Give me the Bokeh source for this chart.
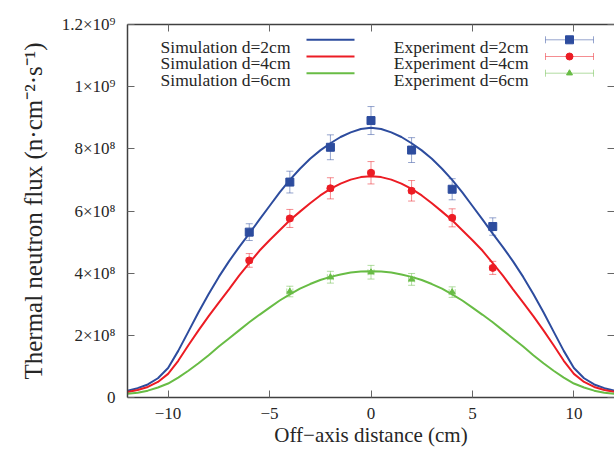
from bokeh.plotting import figure
from bokeh.models import (ColumnDataSource, LinearAxis, FixedTicker, Whisker, TeeHead,
                          CustomLabelingPolicy, Range1d)
from bokeh.core.properties import value
from bokeh.embed import file_html
from bokeh.resources import INLINE

FONT = "Liberation Serif"
TXT = "#262626"
AX = "#404040"

# ---- data (flux in units of 1e8 n/cm2/s) ----
sim_x = [-12.0, -11.5, -11.0, -10.5, -10.0, -9.5, -9.0, -8.5, -8.0, -7.5, -7.0, -6.5, -6.0,
         -5.5, -5.0, -4.5, -4.0, -3.5, -3.0, -2.5, -2.0, -1.5, -1.0, -0.5, 0.0,
         0.5, 1.0, 1.5, 2.0, 2.5, 3.0, 3.5, 4.0, 4.5, 5.0, 5.5, 6.0,
         6.5, 7.0, 7.5, 8.0, 8.5, 9.0, 9.5, 10.0, 10.5, 11.0, 11.5, 12.0]
sim_d2 = [0.22, 0.30, 0.42, 0.62, 0.95, 1.50, 2.12, 2.74, 3.33, 3.88, 4.38, 4.84, 5.27,
          5.72, 6.16, 6.60, 7.00, 7.36, 7.68, 7.95, 8.18, 8.38, 8.53, 8.64, 8.68,
          8.64, 8.53, 8.38, 8.18, 7.95, 7.68, 7.36, 7.00, 6.60, 6.16, 5.72, 5.27,
          4.84, 4.38, 3.88, 3.33, 2.74, 2.12, 1.50, 0.95, 0.62, 0.42, 0.30, 0.22]
sim_d4 = [0.18, 0.24, 0.34, 0.50, 0.76, 1.18, 1.68, 2.16, 2.62, 3.05, 3.48, 3.92, 4.32,
          4.72, 5.06, 5.38, 5.70, 5.98, 6.25, 6.50, 6.71, 6.88, 7.01, 7.09, 7.12,
          7.09, 7.01, 6.88, 6.71, 6.50, 6.25, 5.98, 5.70, 5.38, 5.06, 4.72, 4.32,
          3.92, 3.48, 3.05, 2.62, 2.16, 1.68, 1.18, 0.76, 0.50, 0.34, 0.24, 0.18]
sim_d6 = [0.12, 0.15, 0.22, 0.32, 0.45, 0.64, 0.86, 1.10, 1.36, 1.64, 1.90, 2.16, 2.42,
          2.66, 2.89, 3.12, 3.32, 3.50, 3.65, 3.78, 3.88, 3.96, 4.02, 4.05, 4.06,
          4.05, 4.02, 3.96, 3.88, 3.78, 3.65, 3.50, 3.32, 3.12, 2.89, 2.66, 2.42,
          2.16, 1.90, 1.64, 1.36, 1.10, 0.86, 0.64, 0.45, 0.32, 0.22, 0.15, 0.12]

exp_x_d2 = [-6, -4, -2, 0, 2, 4, 6]
exp_y_d2 = [5.32, 6.93, 8.05, 8.91, 7.96, 6.70, 5.50]
exp_e_d2 = [0.27, 0.35, 0.40, 0.45, 0.40, 0.34, 0.28]
exp_x_d4 = [-6, -4, -2, 0, 2, 4, 6]
exp_y_d4 = [4.41, 5.76, 6.73, 7.23, 6.65, 5.78, 4.17]
exp_e_d4 = [0.22, 0.29, 0.34, 0.36, 0.33, 0.29, 0.21]
exp_x_d6 = [-4, -2, 0, 2, 4]
exp_y_d6 = [3.41, 3.87, 4.03, 3.80, 3.39]
exp_e_d6 = [0.17, 0.19, 0.22, 0.19, 0.17]
exp_xerr = 0.15

x_ticks = [-10, -5, 0, 5, 10]
x_tick_labels = ["\u221210", "\u22125", "0", "5", "10"]
y_ticks = [0, 2, 4, 6, 8, 10, 12]
y_tick_labels = ["0", "2\u00d710\u2078", "4\u00d710\u2078", "6\u00d710\u2078", "8\u00d710\u2078",
                 "1\u00d710\u2079", "1.2\u00d710\u2079"]

sim_labels = ["Simulation d=2cm", "Simulation d=4cm", "Simulation d=6cm"]
exp_labels = ["Experiment d=2cm", "Experiment d=4cm", "Experiment d=6cm"]
colors = ["#2d4c9e", "#ec1c24", "#68bc45"]
markers = ["square", "circle", "triangle"]
msizes = [8, 7, 6]

# ---- key layout (pixels from the picture's top-left) ----
KEY_TEXT_RIGHT = [290, 528]
KEY_BASELINE = [46.0, 62.7, 79.3]
KEY_SAMPLE_Y = [39.3, 56.0, 72.7]
KEY_SAMPLE_X = [(306, 354), (545, 593)]
KEY_CAP = 3.5

p = figure(width=614, height=452, x_range=(-12, 12), y_range=(0, 12),
           output_backend="svg", toolbar_location=None,
           min_border_left=127, min_border_right=0, min_border_top=24, min_border_bottom=55)
p.outline_line_color = None
p.xgrid.visible = False
p.ygrid.visible = False
p.background_fill_color = "white"
p.border_fill_color = "white"
# pixel-space ranges for the key (frame spans x 127..614, y 397..24)
p.extra_x_ranges = {"kx": Range1d(127, 614)}
p.extra_y_ranges = {"ky": Range1d(397, 24)}

for ax in (p.xaxis[0], p.yaxis[0]):
    ax.axis_line_color = AX
    ax.axis_line_width = 1.5
    ax.major_tick_in = 7
    ax.major_tick_out = 0
    ax.major_tick_line_color = "#666666"
    ax.minor_tick_line_color = None
    ax.major_label_text_font = FONT
    ax.major_label_text_font_size = "17px"
    ax.major_label_text_color = TXT
    ax.axis_label_text_font = FONT
    ax.axis_label_text_font_style = "normal"
    ax.axis_label_text_color = TXT

p.xaxis.ticker = FixedTicker(ticks=x_ticks)
p.xaxis.major_label_overrides = dict(zip(x_ticks, x_tick_labels))
p.xaxis.major_label_standoff = 10
p.xaxis.axis_label = "Off\u2212axis distance (cm)"
p.xaxis.axis_label_text_font_size = "21px"
p.xaxis.axis_label_standoff = 1

p.yaxis.ticker = FixedTicker(ticks=y_ticks)
p.yaxis.major_label_overrides = dict(zip(y_ticks, y_tick_labels))
p.yaxis.major_label_standoff = 12
p.yaxis.axis_label = "Thermal neutron flux (n\u00b7cm\u207b\u00b2\u00b7s\u207b\u00b9)"
p.yaxis.axis_label_text_font_size = "25px"
p.yaxis.axis_label_standoff = 12

no_labels = CustomLabelingPolicy(code="const all = [...indices]; for (const i of all) indices.unset(i); return indices")

top = LinearAxis(ticker=FixedTicker(ticks=x_ticks), major_label_policy=no_labels,
                 major_label_overrides={t: "" for t in x_ticks},
                 major_label_standoff=0, major_tick_in=7, major_tick_out=0,
                 major_tick_line_color="#666666", minor_tick_line_color=None,
                 axis_line_color=AX, axis_line_width=1.5)
right = LinearAxis(ticker=FixedTicker(ticks=y_ticks), major_label_policy=no_labels,
                   major_label_overrides={t: "" for t in y_ticks},
                   major_label_standoff=0, major_tick_in=7, major_tick_out=0,
                   major_tick_line_color="#666666", minor_tick_line_color=None,
                   axis_line_color=None)
p.add_layout(top, "above")
p.add_layout(right, "right")

sims = [sim_d2, sim_d4, sim_d6]
exps = [(exp_x_d2, exp_y_d2, exp_e_d2), (exp_x_d4, exp_y_d4, exp_e_d4), (exp_x_d6, exp_y_d6, exp_e_d6)]

for ys, c in zip(sims, colors):
    p.line(sim_x, ys, line_color=c, line_width=2)

for (xs, ys, es), c, m, s in zip(exps, colors, markers, msizes):
    src = ColumnDataSource(dict(
        x=xs, y=ys,
        lo=[y - e for y, e in zip(ys, es)], hi=[y + e for y, e in zip(ys, es)],
        xl=[x - exp_xerr for x in xs], xu=[x + exp_xerr for x in xs]))
    vw = Whisker(source=src, base="x", lower="lo", upper="hi", dimension="height",
                 line_color=c, line_alpha=0.5, line_width=1,
                 upper_head=TeeHead(size=7, line_color=c, line_alpha=0.5, line_width=1),
                 lower_head=TeeHead(size=7, line_color=c, line_alpha=0.5, line_width=1))
    hw = Whisker(source=src, base="y", lower="xl", upper="xu", dimension="width",
                 line_color=c, line_alpha=0.5, line_width=1,
                 upper_head=TeeHead(size=6, line_color=c, line_alpha=0.5, line_width=1),
                 lower_head=TeeHead(size=6, line_color=c, line_alpha=0.5, line_width=1))
    p.add_layout(vw)
    p.add_layout(hw)
    p.scatter("x", "y", source=src, marker=m, size=s, fill_color=c, line_color=c)

# ---- key (gnuplot style: right-aligned text, sample to the right) ----
kx = dict(x_range_name="kx", y_range_name="ky")
(s0, s1), (e0, e1) = KEY_SAMPLE_X
p.text(x=[KEY_TEXT_RIGHT[0]] * 3, y=KEY_BASELINE, text=sim_labels, text_align="right",
       text_baseline="alphabetic", text_font=value(FONT), text_font_size="17.5px",
       text_color=TXT, **kx)
p.text(x=[KEY_TEXT_RIGHT[1]] * 3, y=KEY_BASELINE, text=exp_labels, text_align="right",
       text_baseline="alphabetic", text_font=value(FONT), text_font_size="17.5px",
       text_color=TXT, **kx)
for yy, c, m, s in zip(KEY_SAMPLE_Y, colors, markers, msizes):
    p.segment(x0=[s0], y0=[yy], x1=[s1], y1=[yy], line_color=c, line_width=2, **kx)
    p.segment(x0=[e0], y0=[yy], x1=[e1], y1=[yy], line_color=c, line_alpha=0.5, line_width=1, **kx)
    p.segment(x0=[e0, e1], y0=[yy - KEY_CAP] * 2, x1=[e0, e1], y1=[yy + KEY_CAP] * 2,
              line_color=c, line_alpha=0.5, line_width=1, **kx)
    p.scatter(x=[(e0 + e1) / 2], y=[yy], marker=m, size=s, fill_color=c, line_color=c, **kx)

open("out.html", "w").write(file_html(p, INLINE))
